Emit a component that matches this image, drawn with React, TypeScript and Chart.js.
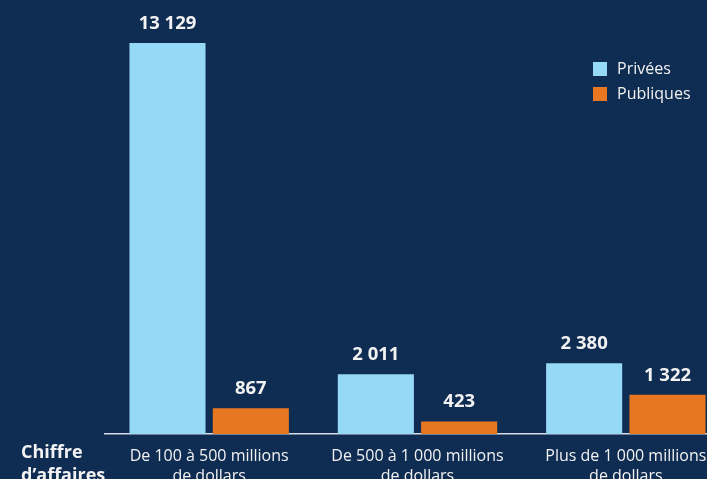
import React, { useEffect, useRef } from "react";
import { Chart, registerables } from "chart.js";

Chart.register(...registerables);

const categories: string[][] = [
  ["De 100 à 500 millions", "de dollars"],
  ["De 500 à 1 000 millions", "de dollars"],
  ["Plus de 1 000 millions", "de dollars"],
];
const seriesNames = ["Privées", "Publiques"];
const privees = [13129, 2011, 2380];
const publiques = [867, 423, 1322];
const axisTitle = ["Chiffre", "d’affaires"];

const BG = "#0f2c52";
const BLUE = "#96d9f6";
const ORANGE = "#e87722";
const TEXT = "#f2f2f2";
const FONT = "'Open Sans', 'Noto Sans', sans-serif";

const fmt = (v: number) => String(v).replace(/\B(?=(\d{3})+(?!\d))/g, " ");

const overlayPlugin = {
  id: "overlay",
  afterDatasetsDraw(chart: any) {
    const ctx = chart.ctx;
    ctx.save();
    // value labels
    ctx.fillStyle = TEXT;
    ctx.font = `bold 18.5px ${FONT}`;
    ctx.textAlign = "center";
    ctx.textBaseline = "alphabetic";
    chart.data.datasets.forEach((ds: any, di: number) => {
      const meta = chart.getDatasetMeta(di);
      meta.data.forEach((bar: any, i: number) => {
        ctx.fillText(fmt(ds.data[i]), bar.x, bar.y - 14);
      });
    });
    // legend
    ctx.textAlign = "left";
    ctx.textBaseline = "middle";
    ctx.font = `16px ${FONT}`;
    chart.data.datasets.forEach((ds: any, di: number) => {
      const y = 62 + di * 25;
      ctx.fillStyle = ds.backgroundColor;
      ctx.fillRect(593, y, 14, 14);
      ctx.fillStyle = TEXT;
      ctx.fillText(ds.label, 617, y + 7);
    });
    // axis title
    ctx.textBaseline = "alphabetic";
    ctx.font = `bold 18px ${FONT}`;
    axisTitle.forEach((t, i) => ctx.fillText(t, 21, 458 + i * 23));
    ctx.restore();
  },
};

export default function App() {
  const ref = useRef<HTMLCanvasElement>(null);
  useEffect(() => {
    document.body.style.margin = "0";
    const chart = new Chart(ref.current!, {
      type: "bar",
      data: {
        labels: categories,
        datasets: [
          { label: seriesNames[0], data: privees, backgroundColor: BLUE },
          { label: seriesNames[1], data: publiques, backgroundColor: ORANGE },
        ],
      },
      options: {
        responsive: false,
        animation: false,
        layout: { padding: { left: 105, right: 0, top: 0, bottom: 0 } },
        plugins: { legend: { display: false }, tooltip: { enabled: false } },
        datasets: { bar: { categoryPercentage: 0.8, barPercentage: 0.913 } },
        scales: {
          x: {
            grid: { display: false, drawTicks: false },
            border: { display: true, color: "#d8dde5", width: 1.5 },
            ticks: { color: TEXT, font: { family: FONT, size: 16, lineHeight: 1.25 }, padding: 12, maxRotation: 0, autoSkip: false },
          },
          y: { display: false, min: 0, max: 14577 },
        },
      },
      plugins: [overlayPlugin],
    });
    return () => chart.destroy();
  }, []);
  return (
    <div style={{ position: "fixed", left: 0, top: 0, width: 707, height: 479, overflow: "hidden", background: BG }}>
      <canvas ref={ref} width={730} height={498} style={{ display: "block" }} />
    </div>
  );
}
